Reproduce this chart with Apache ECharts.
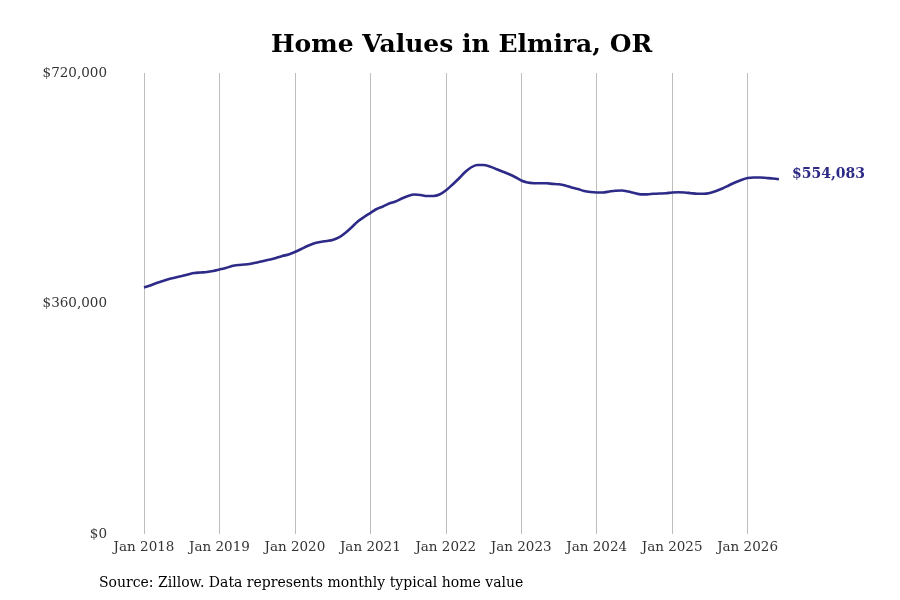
<!DOCTYPE html>
<html>

<head>
	<meta charset="UTF-8" />
	<title>Home Values in Elmira, OR</title>
	<style>
		html, body { margin: 0; padding: 0; background: #fff; }
		#chart { width: 900px; height: 600px; }
	</style>
	<script type="text/javascript" src="https://cdn.jsdelivr.net/npm/echarts@6/dist/echarts.min.js"></script>
</head>

<body>
	<div id="chart"></div>

	<script>
		// monthly typical home value, one array per year
		var v2018 = [385000, 388100, 392000, 395100, 398300, 400600, 402900, 405300, 407600, 408400, 409200, 410800];
		var v2019 = [413100, 415400, 418600, 420100, 420900, 422200, 424000, 426400, 428700, 431100, 434200, 436500];
		var v2020 = [440400, 445100, 449800, 453700, 456000, 457600, 459200, 463100, 470100, 478700, 488100, 495100];
		var v2021 = [501300, 507600, 511500, 516200, 519300, 524000, 527900, 530200, 529500, 527900, 527900, 530200];
		var v2022 = [536500, 545100, 554400, 564600, 572400, 576300, 576300, 574000, 570100, 566200, 562200, 557600];
		var v2023 = [552100, 549000, 547900, 547700, 547700, 546900, 546200, 544300, 541200, 538800, 535700, 534100];
		var v2024 = [533400, 533400, 534900, 536200, 536500, 534900, 532600, 530500, 530500, 531300, 531800, 532100];
		var v2025 = [533400, 533800, 533400, 532300, 531300, 531300, 532600, 535700, 539600, 544300, 549000, 552900];
		var v2026 = [556000, 556800, 556800, 556000, 555200, 554083];

		var startYear = 2018;
		var yTicks = [0, 360000, 720000];
		var sourceNote = "Source: Zillow. Data represents monthly typical home value";

		var values = [].concat(v2018, v2019, v2020, v2021, v2022, v2023, v2024, v2025, v2026);
		var monthNames = ["Jan", "Feb", "Mar", "Apr", "May", "Jun", "Jul", "Aug", "Sep", "Oct", "Nov", "Dec"];
		var months = [];
		for (var i = 0; i < values.length; i++) {
			months.push(monthNames[i % 12] + " " + (startYear + Math.floor(i / 12)));
		}

		function money(v) {
			return "$" + Math.round(v).toString().replace(/\B(?=(\d{3})+(?!\d))/g, ",");
		}

		var lineColor = "#2e2a88";
		var font = "DejaVu Serif";

		var myChart = echarts.init(document.getElementById("chart"));

		var option = {
			animation: false,
			title: {
				text: "Home Values in Elmira, OR",
				left: 266,
				top: 28,
				textStyle: {
					fontFamily: font,
					fontSize: 25,
					fontWeight: "bold",
					color: "#000"
				}
			},
			grid: {
				left: 144,
				right: 121,
				top: 73,
				bottom: 66
			},
			graphic: [{
				type: "text",
				left: 99,
				top: 576,
				style: {
					text: sourceNote,
					font: "14px " + font,
					fill: "#000"
				}
			}],
			xAxis: {
				type: "category",
				data: months,
				boundaryGap: false,
				axisLine: { show: false },
				axisTick: { show: false },
				axisLabel: {
					interval: function (idx) { return idx % 12 === 0; },
					fontFamily: font,
					fontSize: 13.5,
					color: "#333",
					margin: 6
				},
				splitLine: {
					show: true,
					interval: function (idx) { return idx % 12 === 0; },
					lineStyle: { color: "#bdbdbd", width: 1 }
				}
			},
			yAxis: {
				type: "value",
				min: yTicks[0],
				max: yTicks[yTicks.length - 1],
				interval: yTicks[1] - yTicks[0],
				axisLine: { show: false },
				axisTick: { show: false },
				splitLine: { show: false },
				axisLabel: {
					formatter: money,
					fontFamily: font,
					fontSize: 13.5,
					color: "#333",
					margin: 37,
					padding: [3, 0, 0, 0]
				}
			},
			series: [{
				type: "line",
				data: values,
				smooth: 0.3,
				showSymbol: false,
				lineStyle: { color: lineColor, width: 2.6 },
				itemStyle: { color: lineColor },
				endLabel: {
					show: true,
					formatter: function (p) { return money(p.value); },
					fontFamily: font,
					fontSize: 14,
					fontWeight: "bold",
					color: lineColor,
					distance: 13,
					offset: [0, -5]
				}
			}]
		};

		myChart.setOption(option);
	</script>
</body>

</html>
